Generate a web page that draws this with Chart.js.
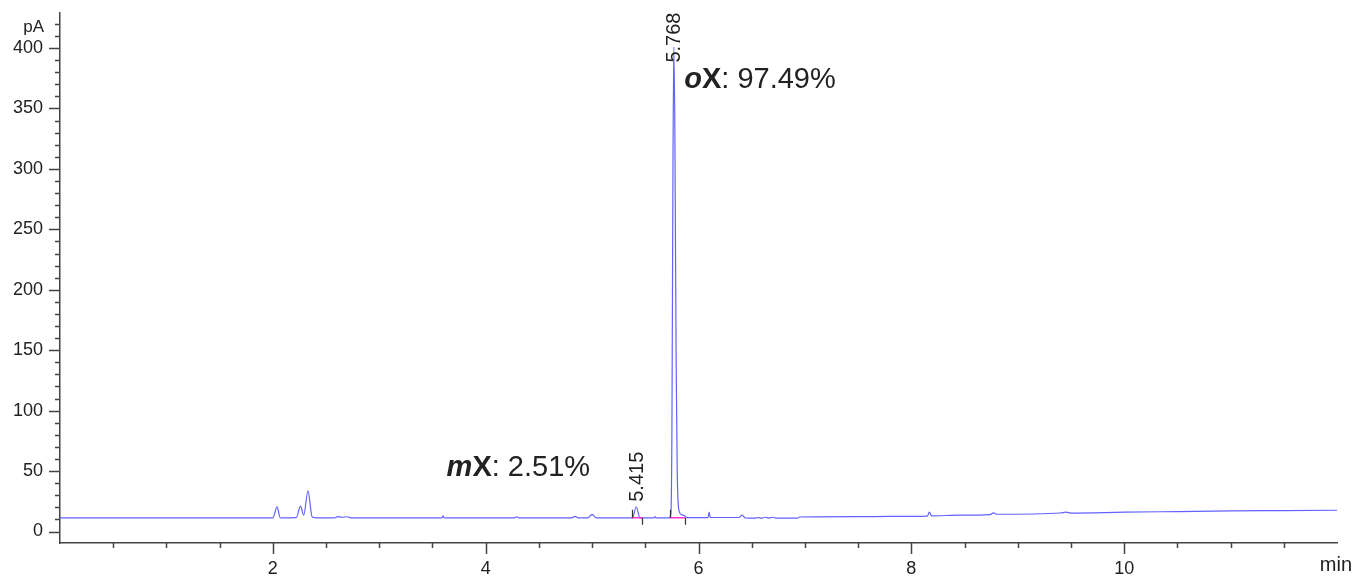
<!DOCTYPE html>
<html>
<head>
<meta charset="utf-8">
<script src="https://cdn.jsdelivr.net/npm/chart.js@4.4.1/dist/chart.umd.min.js"></script>
<style>
  body { margin: 0; background: #fff; }
  canvas { display: block; }
</style>
</head>
<body>
<canvas id="gcChart" width="1355" height="576"></canvas>
<script>
// chromatogram (time in min, signal in pA)
const timeMin = [
  0.00, 2.00, 2.04, 2.07, 2.22, 2.26, 2.29, 2.33, 2.37, 2.42,
  2.58, 2.61, 2.65, 2.70, 2.74, 3.59, 3.60, 3.61, 4.27, 4.29,
  4.31, 4.81, 4.84, 4.87, 4.96, 5.00, 5.04, 5.38, 5.415, 5.45,
  5.58, 5.59, 5.60, 5.72, 5.74, 5.75, 5.76, 5.768, 5.778, 5.79,
  5.80, 5.815, 5.84, 5.87, 5.89, 6.09, 6.10, 6.11, 6.38, 6.41,
  6.44, 6.52, 6.56, 6.59, 6.63, 6.66, 6.70, 6.73, 6.93, 6.95,
  7.50, 7.80, 8.15, 8.17, 8.19, 8.45, 8.74, 8.77, 8.80, 9.40,
  9.45, 9.50, 10.0, 10.5, 11.0, 11.5, 12.0
];
const signalPA = [
  11.3, 11.3, 20.4, 11.3, 11.5, 21.0, 13.5, 33.7, 12.0, 11.3,
  11.3, 12.3, 11.8, 12.2, 11.3, 11.3, 13.0, 11.3, 11.3, 12.2,
  11.3, 11.3, 12.6, 11.3, 11.3, 14.2, 11.3, 11.3, 20.5, 11.3,
  11.3, 12.3, 11.3, 11.3, 14.0, 80.0, 300.0, 401.0, 330.0, 140.0,
  50.0, 18.0, 14.0, 13.0, 11.5, 11.5, 16.0, 11.6, 11.6, 13.5,
  11.2, 11.0, 11.6, 11.0, 11.8, 11.1, 11.8, 11.0, 11.0, 12.0,
  12.3, 12.5, 12.8, 16.0, 13.0, 13.5, 14.0, 15.5, 14.3, 15.3,
  16.0, 15.3, 16.0, 16.5, 17.0, 17.3, 17.6
];

const xTickLabels = [2, 4, 6, 8, 10];
const yTickLabels = [0, 50, 100, 150, 200, 250, 300, 350, 400];

// integrated peaks
const peakTimes = [5.415, 5.768];
const peakLabelBase = [24.6, 388];
const peakStart = [5.372, 5.730];
const peakEnd = [5.472, 5.872];
const peakBaseline = 11.3;

// compound annotations
const compoundNames = ['m', 'o'];
const compoundArea = ['2.51%', '97.49%'];
const compoundX = [3.633, 5.866];
const compoundY = [46, 367];

const FONT = '"Liberation Sans", Arial, sans-serif';
const INK = '#222';
const AXIS = '#444';

const points = timeMin.map((t, i) => ({ x: t, y: signalPA[i] }));

let xMinor = [];
for (let v = 0.5; v < 12; v += 0.5) if (v % 2 !== 0) xMinor.push(v);
let yMinor = [];
for (let v = 10; v <= 420; v += 10) if (v % 50 !== 0) yMinor.push(v);

const noPad = (s) => {
  s.paddingTop = 0;
  s.paddingBottom = 0;
  s.paddingLeft = 0;
  s.paddingRight = 0;
};

const decor = {
  id: 'decor',
  afterDraw: (chart) => {
    const ctx = chart.ctx;
    const xs = chart.scales.x;
    const ys = chart.scales.y;
    const area = chart.chartArea;
    ctx.save();

    // axis ticks
    ctx.strokeStyle = AXIS;
    ctx.lineWidth = 1.5;
    ctx.beginPath();
    yTickLabels.forEach(v => {
      let py = Math.round(ys.getPixelForValue(v)) + 0.5;
      ctx.moveTo(area.left - 11, py); ctx.lineTo(area.left, py);
    });
    yMinor.forEach(v => {
      let py = Math.round(ys.getPixelForValue(v)) + 0.5;
      ctx.moveTo(area.left - 5, py); ctx.lineTo(area.left, py);
    });
    xTickLabels.forEach(v => {
      let px = Math.round(xs.getPixelForValue(v)) + 0.5;
      ctx.moveTo(px, area.bottom); ctx.lineTo(px, area.bottom + 11);
    });
    xMinor.forEach(v => {
      let px = Math.round(xs.getPixelForValue(v)) + 0.5;
      ctx.moveTo(px, area.bottom); ctx.lineTo(px, area.bottom + 5);
    });
    ctx.stroke();

    // units
    ctx.fillStyle = INK;
    ctx.font = '17px ' + FONT;
    ctx.textAlign = 'right';
    ctx.textBaseline = 'alphabetic';
    ctx.fillText('pA', area.left - 16, 32);
    ctx.font = '20px ' + FONT;
    ctx.fillText('min', 1352, 571);

    // integration marks
    let by = ys.getPixelForValue(peakBaseline);
    ctx.strokeStyle = '#ff33cc';
    ctx.lineWidth = 1.5;
    ctx.beginPath();
    peakStart.forEach((s, i) => {
      ctx.moveTo(xs.getPixelForValue(s), by);
      ctx.lineTo(xs.getPixelForValue(peakEnd[i]), by);
    });
    ctx.stroke();
    ctx.strokeStyle = '#333';
    ctx.lineWidth = 1.2;
    ctx.beginPath();
    peakStart.forEach((s, i) => {
      let p1 = Math.round(xs.getPixelForValue(s)) + 0.5;
      let p2 = Math.round(xs.getPixelForValue(peakEnd[i])) + 0.5;
      ctx.moveTo(p1, by - 8); ctx.lineTo(p1, by);
      ctx.moveTo(p2, by); ctx.lineTo(p2, by + 7);
    });
    ctx.stroke();

    // retention time labels
    ctx.font = '20px ' + FONT;
    ctx.textAlign = 'left';
    ctx.textBaseline = 'middle';
    peakTimes.forEach((t, i) => {
      ctx.save();
      ctx.translate(xs.getPixelForValue(t) + 1, ys.getPixelForValue(peakLabelBase[i]));
      ctx.rotate(-Math.PI / 2);
      ctx.fillText(t.toFixed(3), 0, 0);
      ctx.restore();
    });

    // compound labels
    ctx.textBaseline = 'alphabetic';
    compoundNames.forEach((n, i) => {
      let px = xs.getPixelForValue(compoundX[i]);
      let py = ys.getPixelForValue(compoundY[i]);
      ctx.font = 'italic bold 29px ' + FONT;
      ctx.fillText(n, px, py);
      px += ctx.measureText(n).width;
      ctx.font = 'bold 29px ' + FONT;
      ctx.fillText('X', px, py);
      px += ctx.measureText('X').width;
      ctx.font = '29px ' + FONT;
      ctx.fillText(': ' + compoundArea[i], px, py);
    });

    ctx.restore();
  }
};

const ctx = document.getElementById('gcChart').getContext('2d');
new Chart(ctx, {
  type: 'scatter',
  data: {
    datasets: [{
      data: points,
      showLine: true,
      borderColor: '#6262ff',
      borderWidth: 1.2,
      pointRadius: 0,
      cubicInterpolationMode: 'monotone',
      fill: false
    }]
  },
  options: {
    responsive: false,
    animation: false,
    layout: { padding: { top: 13, right: 18, left: 0, bottom: 0 } },
    plugins: {
      legend: { display: false },
      tooltip: { enabled: false }
    },
    scales: {
      x: {
        type: 'linear',
        min: 0,
        max: 12,
        afterBuildTicks: (s) => { s.ticks = xTickLabels.map(v => ({ value: v })); },
        afterFit: (s) => { s.height = 33; noPad(s); },
        grid: { display: false, drawTicks: false },
        border: { color: AXIS, width: 1.5 },
        ticks: {
          font: { family: FONT, size: 18 },
          color: INK,
          padding: 15,
          maxRotation: 0,
          autoSkip: false
        }
      },
      y: {
        type: 'linear',
        min: -9.5,
        max: 429,
        afterBuildTicks: (s) => { s.ticks = yTickLabels.map(v => ({ value: v })); },
        afterFit: (s) => { s.width = 60; noPad(s); },
        grid: { display: false, drawTicks: false },
        border: { color: AXIS, width: 1.5 },
        ticks: {
          font: { family: FONT, size: 18 },
          color: INK,
          padding: 17,
          autoSkip: false
        }
      }
    }
  },
  plugins: [decor]
});
</script>
</body>
</html>
